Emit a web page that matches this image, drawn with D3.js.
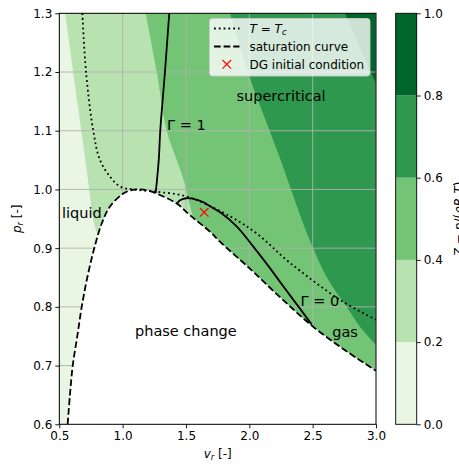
<!DOCTYPE html>
<html><head><meta charset="utf-8">
<script src="https://cdn.jsdelivr.net/npm/d3@7"></script>
<style>
html,body{margin:0;padding:0;background:#fff;}
svg text{font-family:"DejaVu Sans",sans-serif;}
</style></head>
<body>
<svg id="c" width="459" height="464"></svg>
<script>
// ---------- data ----------
const vTicks = [0.5, 1.0, 1.5, 2.0, 2.5, 3.0];
const pTicks = [0.6, 0.7, 0.8, 0.9, 1.0, 1.1, 1.2, 1.3];
const zLevels = [0.0, 0.2, 0.4, 0.6, 0.8, 1.0];

// contour boundaries of Z (v_r, p_r), from the top edge down to the saturation curve / right edge
const z02V = [0.547, 0.642, 0.737, 0.768, 0.806];
const z02P = [1.300, 1.150, 1.000, 0.948, 0.920];
const z04V = [1.182, 1.269, 1.348, 1.427, 1.490, 1.522, 1.558];
const z04P = [1.300, 1.200, 1.100, 1.050, 1.010, 0.980, 0.951];
const z06V = [1.848, 2.005, 2.125, 2.247, 2.415, 2.500, 2.610, 2.768, 2.873, 3.000];
const z06P = [1.300, 1.190, 1.120, 1.050, 0.948, 0.902, 0.851, 0.800, 0.766, 0.735];
const z08V = [2.755, 3.000];
const z08P = [1.300, 1.180];

// saturation curve
const satV = [0.566, 0.584, 0.606, 0.642, 0.677, 0.721, 0.776, 0.835, 0.900, 1.005, 1.070, 1.138, 1.200, 1.269, 1.427, 1.532, 1.690, 1.768, 2.000, 2.250, 2.505, 2.750, 3.000];
const satP = [0.600, 0.650, 0.700, 0.750, 0.800, 0.850, 0.900, 0.942, 0.971, 0.993, 0.999, 1.000, 0.998, 0.993, 0.976, 0.956, 0.928, 0.911, 0.866, 0.815, 0.766, 0.727, 0.691];
// critical isotherm T = Tc
const tcV = [0.682, 0.711, 0.768, 0.821, 0.900, 0.979, 1.084, 1.269, 1.506, 1.849, 2.058, 2.321, 2.716, 3.000];
const tcP = [1.300, 1.200, 1.100, 1.050, 1.022, 1.005, 1.000, 0.996, 0.988, 0.954, 0.925, 0.875, 0.812, 0.778];
// Gamma = 0 and Gamma = 1 lines
const g0V = [1.427, 1.450, 1.500, 1.560, 1.630, 1.700, 1.770, 1.900, 2.030, 2.163, 2.268, 2.400, 2.492];
const g0P = [0.975, 0.981, 0.985, 0.984, 0.979, 0.970, 0.961, 0.937, 0.903, 0.866, 0.835, 0.797, 0.770];
const g1V = [1.261, 1.285, 1.297, 1.315, 1.334, 1.351, 1.368];
const g1P = [0.994, 1.050, 1.100, 1.150, 1.200, 1.250, 1.300];
// DG initial condition
const dgV = [1.644];
const dgP = [0.961];

const legendLabels = ["T = Tc", "saturation curve", "DG initial condition"];

// ---------- styles ----------
const levelColors = ["#e9f6e4", "#b8e3b1", "#74c476", "#2f984f", "#006529"];
const LW = 1.8;

const svg = d3.select("#c");
const x = d3.scaleLinear().domain([0.5, 3.0]).range([59.3, 376]);
const y = d3.scaleLinear().domain([0.6, 1.3]).range([424.3, 13.3]);
const zip = (a, b) => a.map((d, i) => [d, b[i]]);

svg.append("clipPath").attr("id", "clip").append("rect")
  .attr("x", x(0.5)).attr("y", y(1.3)).attr("width", x(3) - x(0.5)).attr("height", y(0.6) - y(1.3));

const plot = svg.append("g").attr("clip-path", "url(#clip)");
const smooth = d3.line().x(d => x(d[0])).y(d => y(d[1])).curve(d3.curveCatmullRom.alpha(0.5));

// base level
plot.append("rect").attr("x", x(0.5)).attr("y", y(1.3)).attr("width", x(3) - x(0.5)).attr("height", y(0.6) - y(1.3))
  .attr("fill", levelColors[0]);
const bounds = [[z02V, z02P], [z04V, z04P], [z06V, z06P], [z08V, z08P]];
bounds.forEach((b, i) => {
  const pts = zip(b[0], b[1]);
  const last = pts[pts.length - 1];
  const d = `M${x(pts[0][0])},${y(1.5)}` + smooth(pts).replace(/^M/, "L") +
    `L${x(last[0])},${y(0.5)}L${x(3.5)},${y(0.5)}L${x(3.5)},${y(1.5)}Z`;
  plot.append("path").attr("d", d).attr("fill", levelColors[i + 1]);
});

// grid
const grid = plot.append("g").attr("stroke", "#b0b0b0").attr("stroke-width", 0.9);
vTicks.forEach(v => grid.append("line").attr("x1", x(v)).attr("x2", x(v)).attr("y1", y(0.6)).attr("y2", y(1.3)));
pTicks.forEach(p => grid.append("line").attr("x1", x(0.5)).attr("x2", x(3)).attr("y1", y(p)).attr("y2", y(p)));

// two-phase region (white)
const satPts = zip(satV, satP);
plot.append("path")
  .attr("d", smooth(satPts) + `L${x(3.2)},${y(satP[satP.length - 1])}L${x(3.2)},${y(0.5)}L${x(satV[0])},${y(0.5)}Z`)
  .attr("fill", "#ffffff");

// lines
plot.append("path").attr("d", smooth(zip(tcV, tcP))).attr("fill", "none").attr("stroke", "#000")
  .attr("stroke-width", LW).attr("stroke-dasharray", "1.8,3");
plot.append("path").attr("d", smooth(satPts)).attr("fill", "none").attr("stroke", "#000")
  .attr("stroke-width", LW).attr("stroke-dasharray", "6.7,2.9");
plot.append("path").attr("d", smooth(zip(g0V, g0P))).attr("fill", "none").attr("stroke", "#000").attr("stroke-width", LW);
plot.append("path").attr("d", smooth(zip(g1V, g1P))).attr("fill", "none").attr("stroke", "#000").attr("stroke-width", LW);

// marker
function xMark(g, cx, cy, s) {
  g.append("path").attr("d", `M${cx - s},${cy - s}L${cx + s},${cy + s}M${cx - s},${cy + s}L${cx + s},${cy - s}`)
    .attr("stroke", "red").attr("stroke-width", 1.2).attr("fill", "none");
}
dgV.forEach((v, i) => xMark(plot, x(v), y(dgP[i]), 4.3));

// region labels
const lab = svg.append("g").attr("font-size", "14.5px").attr("fill", "#000");
lab.append("text").attr("x", 62).attr("y", 218).text("liquid");
lab.append("text").attr("x", 135).attr("y", 336).text("phase change");
lab.append("text").attr("x", 236.5).attr("y", 101).text("supercritical");
lab.append("text").attr("x", 345).attr("y", 337).attr("text-anchor", "middle").text("gas");
lab.append("text").attr("x", 167).attr("y", 130).text("Γ = 1");
lab.append("text").attr("x", 300.5).attr("y", 306).text("Γ = 0");

// axes
const xAxis = d3.axisBottom(x).tickValues(vTicks).tickFormat(d3.format(".1f")).tickSize(4).tickPadding(3);
const yAxis = d3.axisLeft(y).tickValues(pTicks).tickFormat(d3.format(".1f")).tickSize(4).tickPadding(3);
const gx = svg.append("g").attr("transform", `translate(0,${y(0.6)})`).call(xAxis);
const gy = svg.append("g").attr("transform", `translate(${x(0.5)},0)`).call(yAxis);
[gx, gy].forEach(g => {
  g.select(".domain").remove();
  g.selectAll("text").attr("font-size", "12px").attr("font-family", "DejaVu Sans").attr("fill", "#000");
  g.selectAll("line").attr("stroke", "#000").attr("stroke-width", 0.9);
});
svg.append("rect").attr("x", x(0.5)).attr("y", y(1.3)).attr("width", x(3) - x(0.5)).attr("height", y(0.6) - y(1.3))
  .attr("fill", "none").attr("stroke", "#000").attr("stroke-width", 1);

// axis titles
const xt = svg.append("text").attr("x", 217.7).attr("y", 458).attr("text-anchor", "middle").attr("font-size", "12px");
xt.append("tspan").attr("font-style", "italic").text("v");
xt.append("tspan").attr("font-style", "italic").attr("font-size", "8.5px").attr("dy", 2).text("r");
xt.append("tspan").attr("dy", -2).text(" [-]");
const yt = svg.append("text").attr("transform", `translate(21,218.8) rotate(-90)`).attr("text-anchor", "middle").attr("font-size", "12px");
yt.append("tspan").attr("font-style", "italic").text("p");
yt.append("tspan").attr("font-style", "italic").attr("font-size", "8.5px").attr("dy", 2).text("r");
yt.append("tspan").attr("dy", -2).text(" [-]");

// legend
const lg = svg.append("g");
lg.append("rect").attr("x", 209.5).attr("y", 18.5).attr("width", 160.5).attr("height", 57.5).attr("rx", 3)
  .attr("fill", "#fff").attr("fill-opacity", 0.8).attr("stroke", "#cccccc").attr("stroke-width", 0.9);
const rowY = [28.5, 46.5, 64.3];
lg.append("line").attr("x1", 214).attr("x2", 239.5).attr("y1", rowY[0]).attr("y2", rowY[0])
  .attr("stroke", "#000").attr("stroke-width", LW).attr("stroke-dasharray", "1.8,3");
lg.append("line").attr("x1", 214).attr("x2", 239.5).attr("y1", rowY[1]).attr("y2", rowY[1])
  .attr("stroke", "#000").attr("stroke-width", LW).attr("stroke-dasharray", "6.7,2.9");
xMark(lg, 226.8, rowY[2], 4.3);
const t0 = lg.append("text").attr("x", 249.5).attr("y", rowY[0] + 4.3).attr("font-size", "12px");
t0.append("tspan").attr("font-style", "italic").text("T");
t0.append("tspan").text(" = ");
t0.append("tspan").attr("font-style", "italic").text("T");
t0.append("tspan").attr("font-style", "italic").attr("font-size", "8.5px").attr("dy", 2).text("c");
lg.append("text").attr("x", 249.5).attr("y", rowY[1] + 4.3).attr("font-size", "12px").text(legendLabels[1]);
lg.append("text").attr("x", 249.5).attr("y", rowY[2] + 4.3).attr("font-size", "12px").text(legendLabels[2]);

// colorbar
const cy = d3.scaleLinear().domain([0, 1]).range([424.3, 13.3]);
const cbx = 395.7, cbw = 21;
const cb = svg.append("g");
zLevels.slice(0, -1).forEach((z, i) => {
  cb.append("rect").attr("x", cbx).attr("y", cy(zLevels[i + 1])).attr("width", cbw)
    .attr("height", cy(z) - cy(zLevels[i + 1])).attr("fill", levelColors[i]);
});
cb.append("rect").attr("x", cbx).attr("y", cy(1)).attr("width", cbw).attr("height", cy(0) - cy(1))
  .attr("fill", "none").attr("stroke", "#000").attr("stroke-width", 0.9);
const cAxis = d3.axisRight(cy).tickValues(zLevels).tickFormat(d3.format(".1f")).tickSize(4).tickPadding(3);
const gc = svg.append("g").attr("transform", `translate(${cbx + cbw},0)`).call(cAxis);
gc.select(".domain").remove();
gc.selectAll("text").attr("font-size", "12px").attr("font-family", "DejaVu Sans").attr("fill", "#000");
gc.selectAll("line").attr("stroke", "#000").attr("stroke-width", 0.9);
const ct = svg.append("text").attr("transform", `translate(463,218.8) rotate(-90)`).attr("text-anchor", "middle").attr("font-size", "12px");
ct.append("tspan").attr("font-style", "italic").text("Z");
ct.append("tspan").text(" = ");
ct.append("tspan").attr("font-style", "italic").text("p");
ct.append("tspan").text("/(");
ct.append("tspan").attr("font-style", "italic").text("ρR");
ct.append("tspan").attr("font-style", "italic").attr("font-size", "8.5px").attr("dy", 2).text("s");
ct.append("tspan").attr("font-style", "italic").attr("dy", -2).text("T");
ct.append("tspan").text(")");
</script>
</body></html>
